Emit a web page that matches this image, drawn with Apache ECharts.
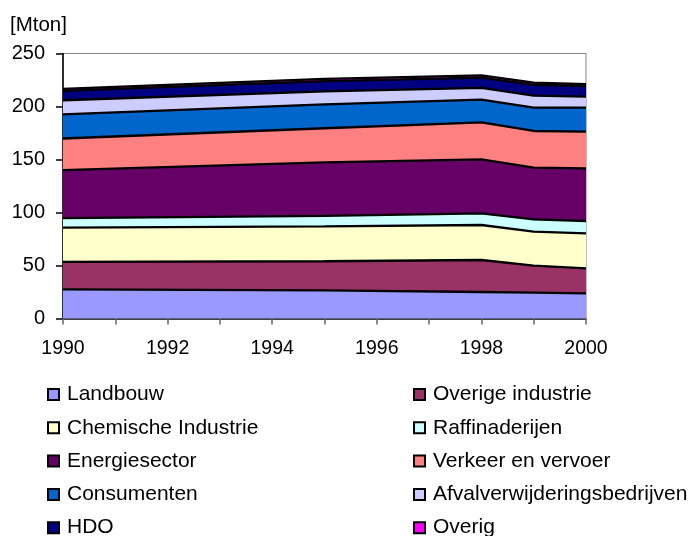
<!DOCTYPE html>
<html>
<head>
<meta charset="utf-8">
<script src="https://cdn.jsdelivr.net/npm/echarts@6/dist/echarts.min.js"></script>
<style>
  html, body { margin: 0; padding: 0; background: #fff; }
  #chart { width: 691px; height: 536px; }
</style>
</head>
<body>
<div id="chart"></div>
<script>
// CO2 emissions per sector, stacked, in Mton
const axisYears = ['1990', '1991', '1992', '1993', '1994', '1995', '1996', '1997', '1998', '1999', '2000'];
const years = ['1990', '1995', '1998', '1999', '2000'];

const sectorNames = [
  'Landbouw', 'Overige industrie', 'Chemische Industrie', 'Raffinaderijen',
  'Energiesector', 'Verkeer en vervoer', 'Consumenten',
  'Afvalverwijderingsbedrijven', 'HDO', 'Overig'
];

const landbouw          = [27.4, 26.6, 25.0, 24.4, 23.7];
const overigeIndustrie  = [26.1, 27.4, 30.2, 25.4, 23.6];
const chemischeIndustrie= [32.2, 32.9, 33.0, 32.1, 33.0];
const raffinaderijen    = [8.9, 9.9, 11.0, 11.7, 11.7];
const energiesector     = [45.4, 50.4, 51.0, 48.7, 49.7];
const verkeerEnVervoer  = [29.8, 32.3, 34.9, 34.6, 34.6];
const consumenten       = [22.7, 22.5, 21.3, 22.0, 22.6];
const afval             = [13.4, 12.2, 11.1, 11.3, 10.4];
const hdo               = [8.8, 9.8, 9.7, 10.3, 9.9];
const overig            = [2.0, 2.0, 2.2, 2.0, 2.0];

const sectorValues = [
  landbouw, overigeIndustrie, chemischeIndustrie, raffinaderijen,
  energiesector, verkeerEnVervoer, consumenten, afval, hdo, overig
];

const sectorColors = [
  '#9999FF', '#993366', '#FFFFCC', '#CCFFFF', '#660066',
  '#FF8080', '#0066CC', '#CCCCFF', '#000080', '#FF00FF'
];

const yTicks = { min: 0, max: 250, step: 50 };

const FONT = '"Liberation Sans", Arial, sans-serif';

const chart = echarts.init(document.getElementById('chart'), null, { renderer: 'canvas' });

// Lower layers get a higher z so every black top edge stays fully visible
const series = sectorNames.map((name, i) => ({
  name: name,
  type: 'line',
  stack: 'total',
  z: 2 + (sectorNames.length - i),
  symbol: 'none',
  smooth: false,
  color: sectorColors[i],
  lineStyle: { color: '#000', width: 2.3 },
  areaStyle: { color: sectorColors[i], opacity: 1 },
  emphasis: { disabled: true },
  data: years.map((y, k) => [y, sectorValues[i][k]])
}));

const legendCommon = {
  type: 'plain',
  orient: 'vertical',
  icon: 'rect',
  padding: 0,
  itemWidth: 11,
  itemHeight: 11,
  itemGap: 12.3,
  top: 384,
  height: 300,
  selectedMode: false,
  itemStyle: { borderColor: '#000', borderWidth: 2 },
  textStyle: {
    fontFamily: FONT, fontSize: 21, color: '#000',
    lineHeight: 20, padding: [0, 0, 0, 3]
  }
};

chart.setOption({
  animation: false,
  backgroundColor: '#fff',
  title: {
    text: '[Mton]',
    left: 10,
    top: 15,
    padding: 0,
    textStyle: { fontFamily: FONT, fontSize: 20.5, fontWeight: 'normal', color: '#000' }
  },
  grid: {
    left: 63, right: 105, top: 53.5, bottom: 217.5,
    show: true, borderColor: '#808080', borderWidth: 1, backgroundColor: 'transparent'
  },
  legend: [
    Object.assign({}, legendCommon, {
      left: 47,
      data: [sectorNames[0], sectorNames[2], sectorNames[4], sectorNames[6], sectorNames[8]]
    }),
    Object.assign({}, legendCommon, {
      left: 413,
      data: [sectorNames[1], sectorNames[3], sectorNames[5], sectorNames[7], sectorNames[9]]
    })
  ],
  xAxis: {
    type: 'category',
    data: axisYears,
    boundaryGap: false,
    axisLine: { show: true, lineStyle: { color: '#000', width: 1.5 } },
    axisTick: { show: true, interval: 0, inside: false, length: 6, lineStyle: { color: '#666', width: 1.5 } },
    axisLabel: {
      interval: 1,
      margin: 20,
      fontFamily: FONT, fontSize: 19.5, color: '#000'
    },
    splitLine: { show: false }
  },
  yAxis: {
    type: 'value',
    min: yTicks.min,
    max: yTicks.max,
    interval: yTicks.step,
    axisLine: { show: true, lineStyle: { color: '#000', width: 1.5 } },
    axisTick: { show: true, inside: false, length: 7, lineStyle: { color: '#000', width: 1.5 } },
    axisLabel: { margin: 18, fontFamily: FONT, fontSize: 20, color: '#000' },
    splitLine: { show: false }
  },
  series: series
});
</script>
</body>
</html>
